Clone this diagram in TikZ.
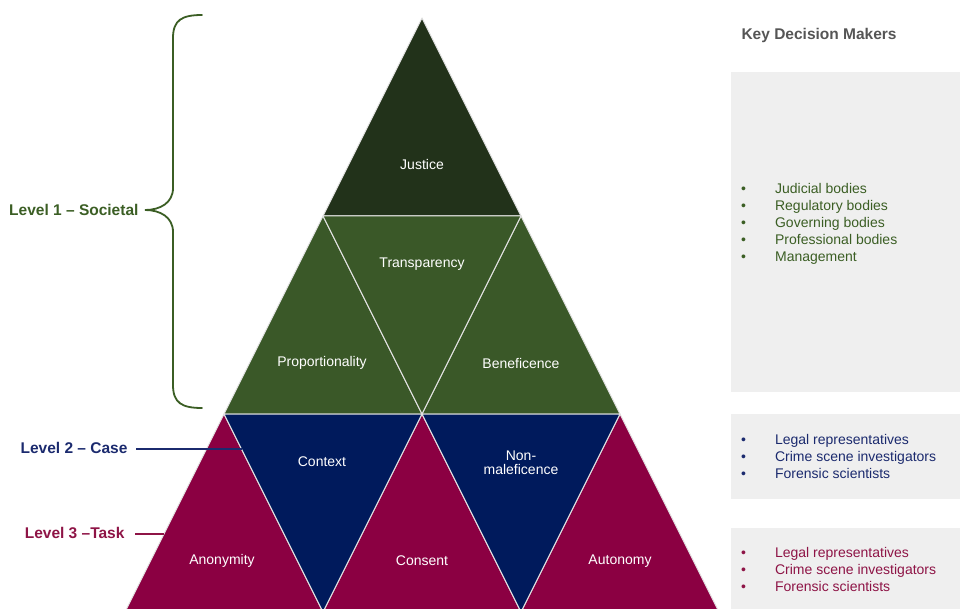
\documentclass[tikz,border=0pt]{standalone}
\usepackage{fontspec}
\setmainfont{Liberation Sans}
\definecolor{justicegreen}{HTML}{22321A}
\definecolor{societalgreen}{HTML}{3A5828}
\definecolor{casenavy}{HTML}{001A5C}
\definecolor{taskred}{HTML}{8B0042}
\definecolor{greentext}{HTML}{3B5E24}
\definecolor{navytext}{HTML}{1B2A6E}
\definecolor{redtext}{HTML}{8E1446}
\definecolor{boxgray}{HTML}{EFEFEF}
\definecolor{titlegray}{HTML}{555555}
\definecolor{edgegray}{HTML}{E4E4E4}

\begin{document}
\begin{tikzpicture}[x=1pt, y=-1pt]
	\tikzstyle{tri} = [draw=edgegray, line width=1pt, line join=round]
	\tikzstyle{tlabel} = [text=white, font=\fontsize{14}{14}\selectfont, align=center]
	\tikzstyle{level} = [anchor=east, font=\fontsize{15.5}{18}\selectfont\bfseries]
	\tikzstyle{makers} = [anchor=west, inner sep=0pt, font=\fontsize{14}{17}\selectfont]
	\clip (0,0) rectangle (960,609);
	% pyramid corners, row k and place i
	\foreach \k in {0,...,3}
		\foreach \i in {0,...,\k}
			\coordinate (p\k\i) at ({422-99*\k+198*\i},{18+198*\k});
	% row 1
	\path[tri, fill=justicegreen] (p00) -- (p10) -- (p11) -- cycle;
	% row 2
	\path[tri, fill=societalgreen] (p10) -- (p20) -- (p21) -- cycle;
	\path[tri, fill=societalgreen] (p11) -- (p21) -- (p22) -- cycle;
	\path[tri, fill=societalgreen] (p10) -- (p11) -- (p21) -- cycle;
	% row 3
	\path[tri, fill=taskred] (p20) -- (p30) -- (p31) -- cycle;
	\path[tri, fill=taskred] (p21) -- (p31) -- (p32) -- cycle;
	\path[tri, fill=taskred] (p22) -- (p32) -- (p33) -- cycle;
	\path[tri, fill=casenavy] (p20) -- (p21) -- (p31) -- cycle;
	\path[tri, fill=casenavy] (p21) -- (p22) -- (p32) -- cycle;
	\node[tlabel] (justice) at (422,164) {Justice};
	\node[tlabel] (transparency) at (422,264) {Transparency};
	\node[tlabel] (proportionality) at (322,363) {Proportionality};
	\node[tlabel] (beneficence) at (521,363) {Beneficence};
	\node[tlabel] (context) at (322,462) {Context};
	\node[tlabel] (nonmaleficence) at (521,463) {Non-\\maleficence};
	\node[tlabel] (anonymity) at (222,561) {Anonymity};
	\node[tlabel] (consent) at (422,561) {Consent};
	\node[tlabel] (autonomy) at (620,561) {Autonomy};
	% levels
	\coordinate (bracetip) at (145,210);
	\coordinate (caseedge) at (241.5,449);
	\coordinate (taskedge) at (164,534);
	\node[level, text=greentext] (societal) at (142,210) {Level 1 – Societal};
	\node[level, text=navytext] (case) at (131,448) {Level 2 – Case};
	\node[level, text=redtext] (task) at (128,533) {Level 3 –Task};
	\draw[greentext, line width=1.8pt, line cap=round]
		(202,15) .. controls (182,15) and (173,20) .. (173,38) -- (173,188)
		.. controls (173,203) and (160,210) .. (bracetip)
		.. controls (160,210) and (173,217) .. (173,232) -- (173,385)
		.. controls (173,403) and (182,408) .. (202,408);
	\draw[navytext, line width=1.6pt, shorten <=5pt] (case.east |- caseedge) -- (caseedge);
	\draw[redtext, line width=1.6pt, shorten <=7pt] (task.east |- taskedge) -- (taskedge);
	% key decision makers
	\node[anchor=west, text=titlegray, font=\fontsize{15.5}{18}\selectfont\bfseries] (title) at (738,35) {Key Decision Makers};
	\fill[boxgray] (731,72) rectangle (960,392);
	\fill[boxgray] (731,414) rectangle (960,499);
	\fill[boxgray] (731,528) rectangle (960,612);
	\node[makers, text=greentext] (societalmakers) at (741,224) {%
		\begin{tabular}{@{}l@{\hspace{29pt}}l@{}}
		\textbullet & Judicial bodies\\
		\textbullet & Regulatory bodies\\
		\textbullet & Governing bodies\\
		\textbullet & Professional bodies\\
		\textbullet & Management
		\end{tabular}};
	\node[makers, text=navytext] (casemakers) at (741,458) {%
		\begin{tabular}{@{}l@{\hspace{29pt}}l@{}}
		\textbullet & Legal representatives\\
		\textbullet & Crime scene investigators\\
		\textbullet & Forensic scientists
		\end{tabular}};
	\node[makers, text=redtext] (taskmakers) at (741,571) {%
		\begin{tabular}{@{}l@{\hspace{29pt}}l@{}}
		\textbullet & Legal representatives\\
		\textbullet & Crime scene investigators\\
		\textbullet & Forensic scientists
		\end{tabular}};
\end{tikzpicture}
\end{document}
